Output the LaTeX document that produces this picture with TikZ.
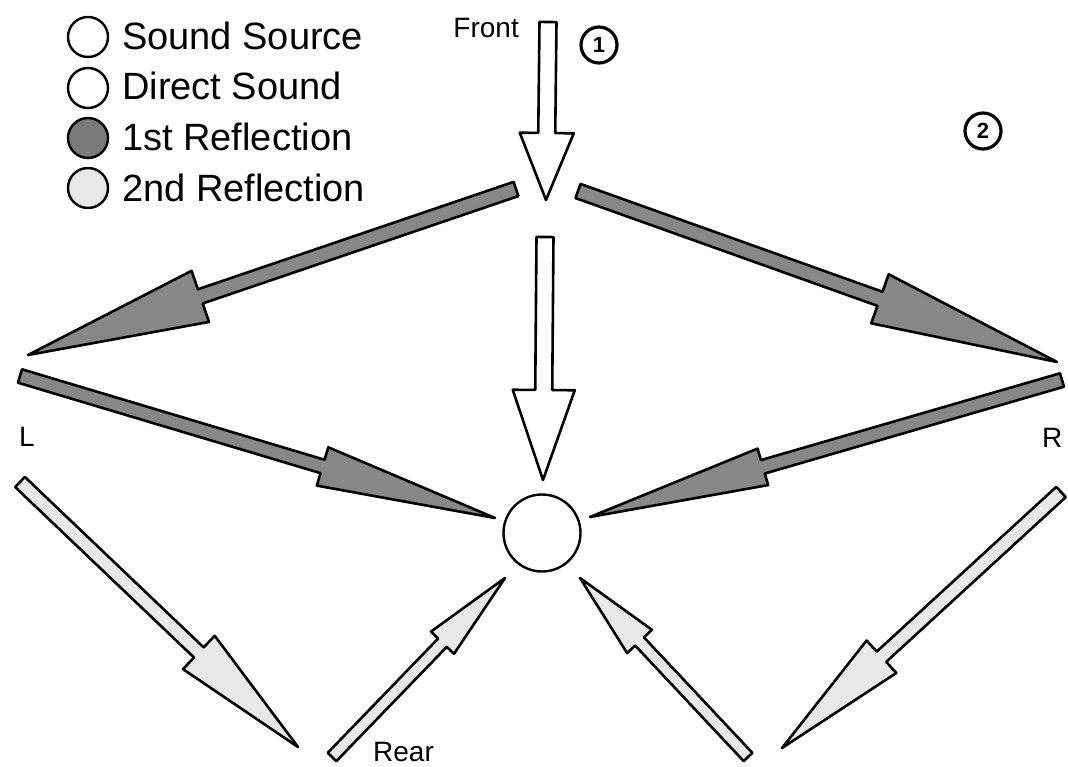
\documentclass[tikz,border=0pt]{standalone}
\usepackage{fontspec}
\setmainfont{Liberation Sans}
\usetikzlibrary{calc}
\definecolor{firstref}{rgb}{0.53,0.53,0.53}
\definecolor{secondref}{rgb}{0.91,0.91,0.91}
\newcommand{\blockarrow}[6]{%
  \path ($(#3)!#6!(#2)$) coordinate (neck);
  \draw[#1] ($(#2)!#4!90:(#3)$) -- ($(neck)!#4!90:(#3)$) -- ($(neck)!#5!90:(#3)$)
    -- (#3) -- ($(neck)!#5!-90:(#3)$) -- ($(neck)!#4!-90:(#3)$) -- ($(#2)!#4!-90:(#3)$) -- cycle;
}
\tikzset{
  arr/.style={line width=2.6pt, line join=round},
  direct/.style={arr, fill=white},
  firstr/.style={arr, fill=firstref},
  secondr/.style={arr, fill=secondref},
  legcirc/.style={circle, draw, line width=2.4pt, minimum size=40pt, inner sep=0pt},
  legtext/.style={anchor=base west, inner sep=0pt, font=\fontsize{38}{40}\selectfont},
  small/.style={inner sep=0pt, font=\fontsize{28}{30}\selectfont},
  numc/.style={circle, draw, line width=3.2pt, minimum size=36pt, inner sep=0pt, font=\fontsize{22}{22}\selectfont\bfseries}
}
\begin{document}
\begin{tikzpicture}[x=1pt,y=-1pt]
\useasboundingbox (0,0) rectangle (1068,767);
% legend
\node[legcirc, fill=white] (c1) at (88,37) {};
\node[legcirc, fill=white] (c2) at (88,88) {};
\node[legcirc, fill=firstref!90!black] (c3) at (88,138) {};
\node[legcirc, fill=secondref] (c4) at (88,188) {};
\node[legtext] (t1) at (122,50) {Sound Source};
\node[legtext] (t2) at (122,100) {Direct Sound};
\node[legtext] (t3) at (122,151) {1st Reflection};
\node[legtext] (t4) at (122,202) {2nd Reflection};
% labels
\node[small, anchor=base east] (front) at (519,38) {Front};
\node[small, anchor=base west] (rear) at (373,761) {Rear};
\node[small, anchor=base west] (lab L) at (19,446) {L};
\node[small, anchor=base west] (lab R) at (1042,447) {R};
\node[numc] (n1) at (599,45) {1};
\node[numc] (n2) at (983,131) {2};
% listener
\node[circle, draw, line width=2.4pt, minimum size=77pt, inner sep=0pt, fill=white] (listener) at (542,533) {};
% arrow end points
\coordinate (fA) at (548,22);   \coordinate (fB) at (546,200);
\coordinate (cA) at (545,237);  \coordinate (cB) at (543,480);
\coordinate (tlA) at (516,189); \coordinate (tlB) at (28,355);
\coordinate (trA) at (578,191); \coordinate (trB) at (1057,362);
\coordinate (mlA) at (20,376);  \coordinate (mlB) at (495,518);
\coordinate (mrA) at (1062,380);\coordinate (mrB) at (590,517);
\coordinate (blA) at (20,482);  \coordinate (blB) at (298,747);
\coordinate (bclA) at (332,757);\coordinate (bclB) at (505,578);
\coordinate (bcrA) at (748,757);\coordinate (bcrB) at (580,578);
\coordinate (brA) at (1061,492);\coordinate (brB) at (782,748);
% direct sound
\blockarrow{direct}{fA}{fB}{8.5pt}{27pt}{67pt}
\blockarrow{direct}{cA}{cB}{8.5pt}{31pt}{90pt}
% first reflections
\blockarrow{firstr}{tlA}{tlB}{7.5pt}{27pt}{182pt}
\blockarrow{firstr}{trA}{trB}{7.5pt}{26pt}{188pt}
\blockarrow{firstr}{mlA}{mlB}{7pt}{20pt}{180pt}
\blockarrow{firstr}{mrA}{mrB}{7pt}{19pt}{180pt}
% second reflections
\blockarrow{secondr}{blA}{blB}{7pt}{23pt}{137pt}
\blockarrow{secondr}{bclA}{bclB}{6pt}{16pt}{90pt}
\blockarrow{secondr}{bcrA}{bcrB}{6pt}{17pt}{87pt}
\blockarrow{secondr}{brA}{brB}{7pt}{22pt}{135pt}
\end{tikzpicture}
\end{document}
